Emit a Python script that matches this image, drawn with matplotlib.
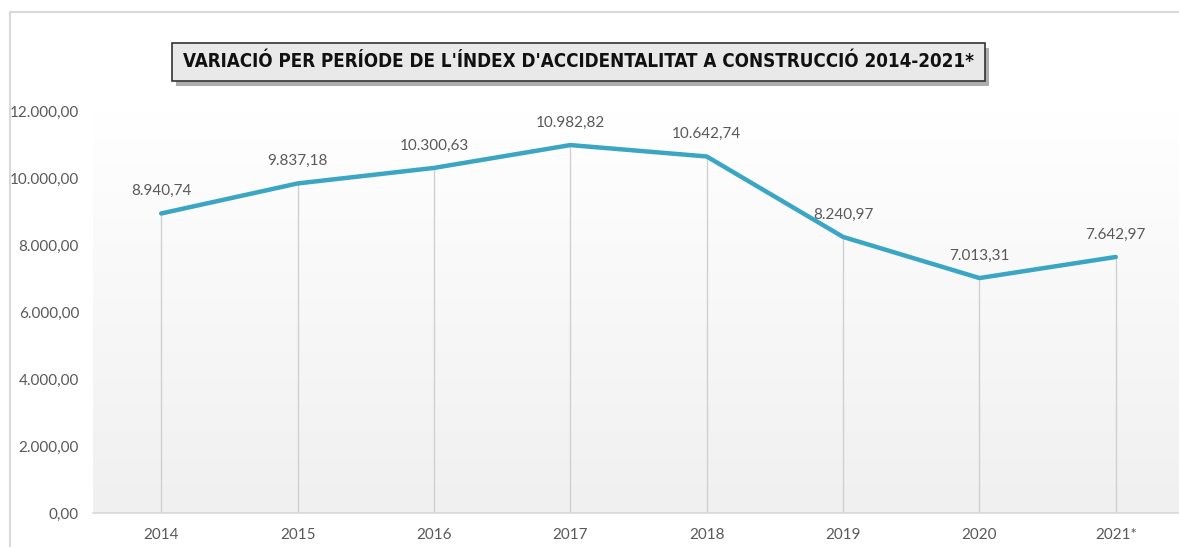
import matplotlib
matplotlib.use("Agg")
import matplotlib.pyplot as plt
import numpy as np
from matplotlib.patches import Rectangle
from matplotlib.lines import Line2D
from matplotlib.colors import LinearSegmentedColormap

categories = ["2014", "2015", "2016", "2017", "2018", "2019", "2020", "2021*"]
values = [8940.74, 9837.18, 10300.63, 10982.82, 10642.74, 8240.97, 7013.31, 7642.97]
yticks = [0, 2000, 4000, 6000, 8000, 10000, 12000]
title = "VARIACIÓ PER PERÍODE DE L'ÍNDEX D'ACCIDENTALITAT A CONSTRUCCIÓ 2014-2021*"

def fmt(v):
    s = f"{v:,.2f}"
    return s.replace(",", "X").replace(".", ",").replace("X", ".")

W, H = 1179, 547
fig = plt.figure(figsize=(W / 100, H / 100), dpi=100)
fig.patch.set_facecolor("white")

left, top, bottom = 93, 111, 513
width = 1091
ax = fig.add_axes([left / W, 1 - bottom / H, width / W, (bottom - top) / H])
ax.set_facecolor("none")

# gradient background: white at top, light grey at bottom
grad = np.linspace(0.0, 1.0, 256).reshape(-1, 1)
cmap = LinearSegmentedColormap.from_list("g", ["#f0f0f0", "#ffffff"])
ax.imshow(grad, extent=(-0.5, len(categories) - 0.5, 0, 12000), aspect="auto",
          cmap=cmap, origin="lower", zorder=0)
ax.set_xlim(-0.5, len(categories) - 0.5)
ax.set_ylim(0, 12000)

x = np.arange(len(categories))
ax.vlines(x, 0, values, color="#d0d0d0", lw=1.0, zorder=1)
ax.plot(x, values, color="#3aa6c4", lw=3.2, solid_capstyle="round",
        solid_joinstyle="round", zorder=3)

for xi, v in zip(x, values):
    ax.annotate(fmt(v), (xi, v), xytext=(0, 11), textcoords="offset points",
                ha="center", va="bottom", fontsize=11, color="#595959",
                family="Lato")

for s in ["left", "right", "top"]:
    ax.spines[s].set_visible(False)
ax.spines["bottom"].set_color("#d9d9d9")
ax.spines["bottom"].set_linewidth(1.2)

ax.set_xticks(x)
ax.set_xticklabels(categories)
ax.set_yticks(yticks)
ax.set_yticklabels([fmt(t) for t in yticks])
ax.tick_params(axis="both", length=0, colors="#595959", labelsize=11)
ax.tick_params(axis="x", pad=11)
ax.tick_params(axis="y", pad=10)
for lab in ax.get_xticklabels() + ax.get_yticklabels():
    lab.set_family("Lato")

# figure border
fig.add_artist(Line2D([10 / W, 1.0], [1 - 12 / H, 1 - 12 / H], color="#d9d9d9", lw=1.5,
                      transform=fig.transFigure))
fig.add_artist(Line2D([10 / W, 10 / W], [1 - 12 / H, 0], color="#d9d9d9", lw=1.5,
                      transform=fig.transFigure))

# title box with shadow
bx0, by0, bx1, by1 = 172, 43, 985, 81
fig.add_artist(Rectangle(((bx0 + 4) / W, 1 - (by1 + 5) / H), (bx1 - bx0) / W, (by1 - by0) / H,
                         transform=fig.transFigure, facecolor="#777777", edgecolor="none",
                         alpha=0.6, zorder=5))
fig.add_artist(Rectangle((bx0 / W, 1 - by1 / H), (bx1 - bx0) / W, (by1 - by0) / H,
                         transform=fig.transFigure, facecolor="#e9e9e9", edgecolor="#333333",
                         lw=1.2, zorder=6))
t = fig.text((bx0 + bx1) / 2 / W, 1 - 62 / H, title, ha="center", va="center",
             fontsize=14, fontweight="bold", family="DejaVu Sans", fontstretch="condensed",
             color="#111111", zorder=7)
# fit title width to the box
fig.canvas.draw()
wpx = t.get_window_extent().width
t.set_fontsize(14 * 795 / wpx)

fig.savefig("out.png", dpi=100)
